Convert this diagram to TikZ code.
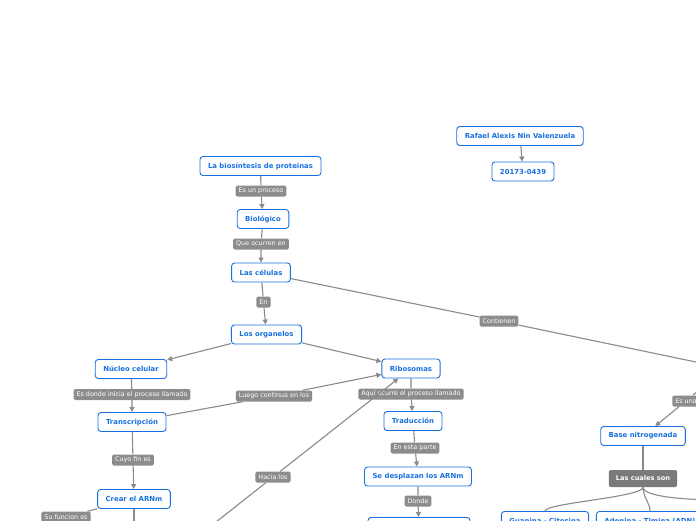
\documentclass[tikz,border=0pt]{standalone}
\usepackage{fontspec}
\newfontfamily\mapfont{DejaVu Sans}
\usetikzlibrary{positioning, arrows.meta}
\definecolor{conceptblue}{RGB}{24,112,224}
\definecolor{linkgrey}{RGB}{140,140,140}
\definecolor{darkgrey}{RGB}{122,122,122}
\definecolor{edgegrey}{RGB}{138,138,138}

\begin{document}
\begin{tikzpicture}[x=1pt, y=-1pt,
  c/.style={draw=conceptblue, line width=0.9pt, rounded corners=3pt, fill=white, text=conceptblue,
    font=\mapfont\fontsize{6.9}{8}\selectfont\bfseries, minimum height=19pt, inner xsep=8pt, inner ysep=0pt},
  l/.style={fill=linkgrey, rounded corners=1.5pt, text=white,
    font=\mapfont\fontsize{6.4}{7}\selectfont, minimum height=11pt, inner xsep=3pt, inner ysep=0pt},
  L/.style={l, fill=darkgrey, font=\mapfont\fontsize{6.6}{7}\selectfont\bfseries, minimum height=17pt, inner xsep=7pt},
  e/.style={draw=edgegrey, line width=1.1pt},
  a/.style={e, -{Triangle[width=5pt, length=5pt]}}]
\useasboundingbox (0,0) rectangle (696,520);
\clip (0,0) rectangle (696,520);
% main column
\node[c] (biosin) at (260.5,166) {La biosíntesis de proteinas};
\node[l] (esproc) at (261,191) {Es un proceso};
\node[c] (biol) at (263,219) {Biológico};
\node[l] (ocurren) at (261,244) {Que ocurren en};
\node[c] (cel) at (261,272.5) {Las células};
\node[l] (en) at (263.5,302) {En};
\node[c] (org) at (266.5,334.5) {Los organelos};
% left branch
\node[c] (nuc) at (131,369) {Núcleo celular};
\node[l] (inicia) at (132,394.5) {Es donde inicia el proceso llamado};
\node[c] (trans) at (132,422) {Transcripción};
\node[l] (cuyo) at (133,460) {Cuyo fin es};
\node[c] (crear) at (134,499) {Crear el ARNm};
\node[l] (sufun) at (66,517) {Su funcion es};
\node[l] (luego) at (274,396) {Luego continua en los};
\node[l] (hacia) at (273,477) {Hacia los};
% ribosomes
\node[c] (ribo) at (411,368.5) {Ribosomas};
\node[l] (aqui) at (411,394) {Aquí ocurre el proceso llamado};
\node[c] (trad) at (413,421) {Traducción};
\node[l] (esta) at (415,448) {En esta parte};
\node[c] (desp) at (418,476.5) {Se desplazan los ARNm};
\node[l] (donde) at (418,501) {Donde};
\node[c, minimum width=102pt] (sigue) at (419,527) {};
% right side
\node[l] (cont) at (499,321) {Contienen};
\node[l] (esuna) at (686,401) {Es una};
\node[c] (base) at (643,436) {Base nitrogenada};
\node[L] (cuales) at (643,478.5) {Las cuales son};
\node[c] (gua) at (545,521) {Guanina - Citosina};
\node[c] (ade) at (650,521) {Adenina - Timina (ADN)};
% author
\node[c] (autor) at (520,136) {Rafael Alexis Nin Valenzuela};
\node[c] (matri) at (523,171.5) {20173-0439};
\coordinate (cfar) at (720,367);
\coordinate (esrc) at (716,376);
\coordinate (hsrc) at (168,560);
\coordinate (sfar) at (-20,535);
\coordinate (cdown) at (134,545);
\coordinate (ofr) at (720,500);

\draw[a] (biosin) -- (esproc) -- (biol);
\draw[a] (biol) -- (ocurren) -- (cel);
\draw[a] (cel) -- (en) -- (org);
\draw[a] (org) -- (nuc);
\draw[a] (org) -- (ribo);
\draw[a] (nuc) -- (inicia) -- (trans);
\draw[a] (trans) -- (cuyo) -- (crear);
\draw[e] (crear) -- (sufun) -- (sfar);
\draw[e] (crear) -- (cdown);
\draw[a] (trans) -- (luego) -- (ribo);
\draw[a] (hsrc) -- (hacia) -- (ribo);
\draw[a] (ribo) -- (aqui) -- (trad);
\draw[a] (trad) -- (esta) -- (desp);
\draw[a] (desp) -- (donde) -- (sigue);
\draw[e] (cel) -- (cont) -- (cfar);
\draw[a] (esrc) -- (esuna) -- (base);
\draw[e] (base) -- (cuales);
\draw[e] (cuales.south) .. controls +(0,10) and +(0,-8) .. (gua.north);
\draw[e] (cuales.south) .. controls +(0,10) and +(0,-8) .. (ade.north);
\draw[e] (cuales.south) .. controls +(0,10) and +(-30,0) .. (ofr);
\draw[a] (autor) -- (matri);
\end{tikzpicture}
\end{document}
